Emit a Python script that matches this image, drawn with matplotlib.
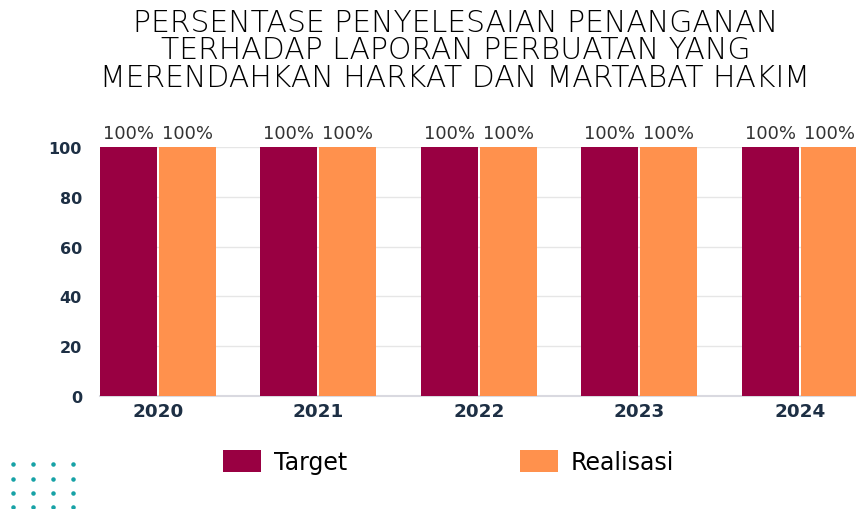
import matplotlib
matplotlib.use('Agg')
import matplotlib.pyplot as plt
import numpy as np
from matplotlib.patches import Patch

# Data
years = ['2020', '2021', '2022', '2023', '2024']
target = [100, 100, 100, 100, 100]
realisasi = [100, 100, 100, 100, 100]
yticks = [0, 20, 40, 60, 80, 100]

title = 'PERSENTASE PENYELESAIAN PENANGANAN\nTERHADAP LAPORAN PERBUATAN YANG\nMERENDAHKAN HARKAT DAN MARTABAT HAKIM'

c_target = '#990042'
c_real = '#FF914D'
c_tick = '#1d2f44'

fig = plt.figure(figsize=(8.56, 5.10), dpi=100)
ax = fig.add_axes([100 / 856, 113 / 510, 756 / 856, 249 / 510])

x = np.arange(len(years))
w = 0.355
off = 0.184
b1 = ax.bar(x - off, target, w, color=c_target, zorder=3)
b2 = ax.bar(x + off, realisasi, w, color=c_real, zorder=3)

for bars, vals in [(b1, target), (b2, realisasi)]:
    for b, v in zip(bars, vals):
        ax.text(b.get_x() + b.get_width() / 2, v + 2.0, f'{v}%', ha='center', va='bottom',
                fontsize=13, color='#333333', family='DejaVu Sans', clip_on=False)

ax.set_xlim(-0.36, 4.35)
ax.set_ylim(0, 100)
ax.set_yticks(yticks)
ax.set_xticks(x)
ax.set_xticklabels(years)
ax.tick_params(axis='x', length=0, labelsize=13.2, labelcolor=c_tick, pad=4.5)
ax.tick_params(axis='y', length=0, labelsize=11.5, labelcolor=c_tick, pad=13)
for lab in ax.get_xticklabels() + ax.get_yticklabels():
    lab.set_fontweight('bold')
    lab.set_family('DejaVu Sans')
ax.grid(axis='y', color='#e6e6e6', linewidth=1, zorder=0)
for s in ['top', 'right', 'left']:
    ax.spines[s].set_visible(False)
ax.spines['bottom'].set_color('#d9d9e0')
ax.spines['bottom'].set_linewidth(1.5)

fig.text(0.532, 0.983, title, ha='center', va='top', fontsize=21.5, family='DejaVu Sans',
         fontweight='light', linespacing=0.94, color='#000000')

handles = [Patch(facecolor=c_target, label='Target'), Patch(facecolor=c_real, label='Realisasi')]
fig.legend(handles=handles, loc='center left', bbox_to_anchor=(223 / 856, 47 / 510), ncol=2,
           frameon=False, handlelength=1.61, handleheight=1.02, borderpad=0, borderaxespad=0,
           columnspacing=7.3, handletextpad=0.55, prop={'family': 'DejaVu Sans', 'size': 17})

# decorative dot grid bottom-left
dots = fig.add_axes([0, 0, 1, 1], facecolor='none')
dots.set_xlim(0, 856)
dots.set_ylim(510, 0)
dots.axis('off')
gx, gy = np.meshgrid([13, 33, 53, 73], [465, 480, 494, 508])
dots.scatter(gx.ravel(), gy.ravel(), s=5, color='#17a2a6')

fig.savefig('out.png', dpi=100)
